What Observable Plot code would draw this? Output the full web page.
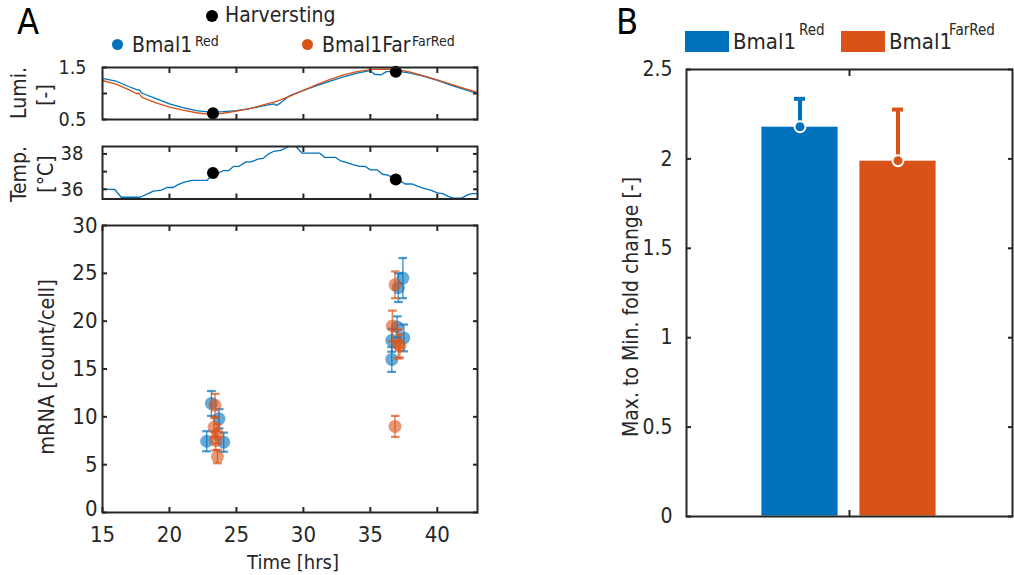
<!DOCTYPE html>
<html>
<head>
<meta charset="utf-8">
<script src="https://cdn.jsdelivr.net/npm/d3@7"></script>
<script src="https://cdn.jsdelivr.net/npm/@observablehq/plot@0.6"></script>
<style>
  html, body { margin: 0; padding: 0; background: #fff; }
  #chart { position: relative; width: 1014px; height: 575px; overflow: hidden;
    font-family: "DejaVu Sans Condensed", "DejaVu Sans", sans-serif; font-stretch: condensed; color: #262626; }
  #chart svg { position: absolute; overflow: visible; }
  .t { position: absolute; white-space: nowrap; line-height: 1; }
  .rot { transform: translate(-50%, -50%) rotate(-90deg); text-align: center; }
  .dot { position: absolute; border-radius: 50%; }
  .sw { position: absolute; }
</style>
</head>
<body>
<div id="chart"></div>
<script>
// ---------------- DATA ----------------
const BLUE = "#0072BD", ORANGE = "#D95319";

// Luminescence traces (normalised), time in hours
const lumiRedT = [15, 16, 17, 17.6, 17.75, 17.9, 18, 19, 20, 21, 22, 23, 24, 25, 26, 27, 27.8, 28.0, 28.3, 29, 30, 31, 32, 33, 34, 35, 35.3, 35.8, 36.2, 37, 38, 39, 40, 41, 42, 43];
const lumiRedV = [1.29, 1.24, 1.13, 1.07, 1.07, 1.02, 1.00, 0.90, 0.80, 0.73, 0.67, 0.64, 0.65, 0.67, 0.71, 0.76, 0.80, 0.77, 0.82, 0.96, 1.06, 1.15, 1.24, 1.32, 1.39, 1.44, 1.37, 1.36, 1.42, 1.43, 1.39, 1.33, 1.25, 1.16, 1.08, 1.00];
const lumiFarT = [15, 16, 17, 17.6, 17.7, 17.9, 18, 19, 20, 21, 22, 23, 24, 25, 26, 27, 28, 29, 30, 31, 32, 33, 34, 35, 36, 37, 38, 39, 40, 41, 42, 43];
const lumiFarV = [1.25, 1.18, 1.07, 0.99, 1.01, 0.94, 0.92, 0.82, 0.74, 0.68, 0.63, 0.60, 0.62, 0.66, 0.71, 0.78, 0.85, 0.95, 1.06, 1.17, 1.27, 1.36, 1.42, 1.46, 1.47, 1.46, 1.41, 1.34, 1.26, 1.18, 1.10, 1.02];

// Temperature trace (°C)
const tempT = [15, 15.9, 16.4, 17.8, 18.4, 18.8, 19.4, 19.8, 20.3, 20.6, 21.1, 21.7, 22.8, 23.3, 23.6, 24.0, 24.4, 24.8, 25.2, 25.7, 26.1, 26.6, 27.0, 27.4, 27.8, 28.3, 28.7, 29.0, 29.4, 29.9, 31.2, 31.6, 32.4, 32.8, 33.3, 33.7, 34.2, 34.6, 35.0, 35.5, 35.9, 36.3, 36.8, 37.2, 37.6, 38.1, 38.6, 39.0, 39.5, 40.0, 40.4, 40.8, 41.2, 41.8, 42.3, 42.6, 43];
const tempV = [36.0, 36.0, 35.55, 35.55, 35.75, 35.9, 35.95, 36.1, 36.1, 36.25, 36.4, 36.5, 36.5, 36.9, 36.9, 37.05, 37.05, 37.3, 37.3, 37.55, 37.55, 37.7, 37.75, 38.0, 38.15, 38.2, 38.35, 38.45, 38.45, 38.05, 38.05, 37.8, 37.8, 37.6, 37.5, 37.4, 37.3, 37.3, 37.1, 37.1, 36.85, 36.8, 36.6, 36.5, 36.3, 36.3, 36.15, 36.05, 35.95, 35.8, 35.75, 35.6, 35.5, 35.5, 35.7, 35.75, 35.75];

// Harvesting times
const harvestT = [23.25, 36.9];
const harvestLumi = [0.62, 1.42];
const harvestTemp = [36.92, 36.55];

// mRNA counts (mean ± error)
const redT = [23.13, 23.7, 22.78, 24.05, 37.43, 37.09, 37.0, 37.5, 36.6, 36.6];
const redV = [11.4, 9.8, 7.45, 7.35, 24.5, 23.5, 19.4, 18.25, 18.0, 16.0];
const redE = [1.3, 1.0, 1.05, 1.0, 2.1, 1.5, 1.1, 1.4, 1.2, 1.3];
const farT = [23.4, 23.33, 23.58, 23.45, 23.58, 36.84, 36.64, 37.09, 37.2, 36.84];
const farV = [11.2, 8.9, 8.2, 7.5, 5.85, 23.8, 19.5, 17.6, 17.4, 9.0];
const farE = [1.2, 1.0, 1.0, 1.0, 0.7, 1.4, 1.6, 1.5, 1.2, 1.1];

// Panel B
const groups = ["1"];
const strains = ["Red", "FarRed"];
const foldMean = [2.18, 1.99];
const foldUpper = [2.336, 2.276];

// Ticks
const timeTicks = [15, 20, 25, 30, 35, 40];
const lumiTicks = [0.5, 1, 1.5];
const lumiLabels = [0.5, 1.5];
const tempTicks = [36, 37, 38];
const tempLabels = [36, 38];
const mrnaTicks = [0, 5, 10, 15, 20, 25, 30];
const foldTicks = [0, 0.5, 1, 1.5, 2, 2.5];

// ---------------- HELPERS ----------------
const FONT = '"DejaVu Sans Condensed", "DejaVu Sans", sans-serif';
const INK = "#262626";
const chart = document.getElementById("chart");
const zip = (t, v) => t.map((x, i) => ({t: x, v: v[i]}));
const zip3 = (t, v, e) => t.map((x, i) => ({t: x, v: v[i], lo: v[i] - e[i], hi: v[i] + e[i]}));

function place(svg, left, top) {
  svg.style.left = left + "px";
  svg.style.top = top + "px";
  chart.appendChild(svg);
}
function text(str, css, cls = "t") {
  const d = document.createElement("div");
  d.className = cls;
  d.innerHTML = str;
  Object.assign(d.style, css);
  chart.appendChild(d);
  return d;
}
function dot(cx, cy, r, color) {
  const d = document.createElement("div");
  d.className = "dot";
  Object.assign(d.style, {left: (cx - r) + "px", top: (cy - r) + "px", width: 2 * r + "px", height: 2 * r + "px", background: color});
  chart.appendChild(d);
}
const fmtOnly = (labels) => (d) => labels.includes(d) ? String(d) : "";
const blank = () => "";

function frameAxes({xTicks, yTicks, yFmt, xFmt, yPad, xPad}) {
  const m = [
    Plot.frame({stroke: INK, strokeWidth: 2}),
    Plot.axisY({anchor: "left", ticks: yTicks, tickSize: -5, tickPadding: yPad, tickFormat: yFmt, label: null, strokeWidth: 2, stroke: INK, fill: INK}),
    Plot.axisY({anchor: "right", ticks: yTicks, tickSize: -5, tickFormat: blank, label: null, strokeWidth: 2, stroke: INK})
  ];
  if (xTicks) {
    m.push(Plot.axisX({anchor: "bottom", ticks: xTicks, tickSize: -5, tickPadding: xPad ?? 0, tickFormat: xFmt ?? blank, label: null, strokeWidth: 2, stroke: INK, fill: INK}));
    m.push(Plot.axisX({anchor: "top", ticks: xTicks, tickSize: -5, tickFormat: blank, label: null, strokeWidth: 2, stroke: INK}));
  }
  return m;
}
const style = (size) => ({fontFamily: FONT, fontSize: size + "px", color: INK, background: "transparent", overflow: "visible"});

// Panel A geometry
const AX0 = 102, AX1 = 477;
const ML = 60, MR = 10, MT = 10, MB = 10;

// ---------------- LUMI ----------------
{
  const top = 67, bot = 119;
  const svg = Plot.plot({
    width: (AX1 - AX0) + ML + MR, height: (bot - top) + MT + MB,
    marginLeft: ML, marginRight: MR, marginTop: MT, marginBottom: MB,
    x: {domain: [15, 43]}, y: {domain: [0.5, 1.5]},
    style: style(19.5),
    marks: [
      Plot.line(zip(lumiRedT, lumiRedV), {x: "t", y: "v", stroke: BLUE, strokeWidth: 1.3, clip: true}),
      Plot.line(zip(lumiFarT, lumiFarV), {x: "t", y: "v", stroke: ORANGE, strokeWidth: 1.3, clip: true}),
      Plot.dot(zip(harvestT, harvestLumi), {x: "t", y: "v", r: 6, fill: "black"}),
      ...frameAxes({xTicks: timeTicks.slice(1), yTicks: lumiTicks, yFmt: fmtOnly(lumiLabels), yPad: 21})
    ]
  });
  place(svg, AX0 - ML, top - MT);
}
// ---------------- TEMP ----------------
{
  const top = 145.5, bot = 198;
  const svg = Plot.plot({
    width: (AX1 - AX0) + ML + MR, height: (bot - top) + MT + MB,
    marginLeft: ML, marginRight: MR, marginTop: MT, marginBottom: MB,
    x: {domain: [15, 43]}, y: {domain: [35.45, 38.42]},
    style: style(20),
    marks: [
      Plot.line(zip(tempT, tempV), {x: "t", y: "v", stroke: BLUE, strokeWidth: 1.3, clip: true}),
      Plot.dot(zip(harvestT, harvestTemp), {x: "t", y: "v", r: 6, fill: "black"}),
      ...frameAxes({xTicks: timeTicks.slice(1), yTicks: tempTicks, yFmt: fmtOnly(tempLabels), yPad: 24})
    ]
  });
  place(svg, AX0 - ML, top - MT);
}
// ---------------- mRNA ----------------
{
  const top = 225, bot = 512;
  const MBm = 40;
  const red = zip3(redT, redV, redE), far = zip3(farT, farV, farE);
  const svg = Plot.plot({
    width: (AX1 - AX0) + ML + MR, height: (bot - top) + MT + MBm,
    marginLeft: ML, marginRight: MR, marginTop: MT, marginBottom: MBm,
    x: {domain: [15, 43]}, y: {domain: [0, 30]},
    style: style(22),
    marks: [
      Plot.link(red, {x1: "t", x2: "t", y1: "lo", y2: "hi", stroke: BLUE, strokeWidth: 1.5, strokeOpacity: 0.7, marker: "tick"}),
      Plot.dot(red, {x: "t", y: "v", r: 6.5, fill: BLUE, fillOpacity: 0.6}),
      Plot.link(far, {x1: "t", x2: "t", y1: "lo", y2: "hi", stroke: ORANGE, strokeWidth: 1.5, strokeOpacity: 0.7, marker: "tick"}),
      Plot.dot(far, {x: "t", y: "v", r: 6.5, fill: ORANGE, fillOpacity: 0.6}),
      Plot.frame({stroke: INK, strokeWidth: 2}),
      // y tick marks (inward, both sides)
      Plot.axisY({anchor: "left", ticks: mrnaTicks, tickSize: -5, tickFormat: blank, label: null, strokeWidth: 2, stroke: INK}),
      Plot.axisY({anchor: "right", ticks: mrnaTicks, tickSize: -5, tickFormat: blank, label: null, strokeWidth: 2, stroke: INK}),
      // y tick labels; the "0" label nudged up so it clears the "15" below it
      Plot.axisY({anchor: "left", ticks: mrnaTicks.slice(1), tickSize: 0, tickPadding: 5, tickFormat: (d) => String(d), label: null, fill: INK}),
      Plot.axisY({anchor: "left", ticks: mrnaTicks.slice(0, 1), tickSize: 0, tickPadding: 5, dy: -4, tickFormat: (d) => String(d), label: null, fill: INK}),
      // x ticks and labels
      Plot.axisX({anchor: "bottom", ticks: timeTicks, tickSize: -5, tickPadding: 19, tickFormat: (d) => String(d), label: null, strokeWidth: 2, stroke: INK, fill: INK}),
      Plot.axisX({anchor: "top", ticks: timeTicks, tickSize: -5, tickFormat: blank, label: null, strokeWidth: 2, stroke: INK})
    ]
  });
  place(svg, AX0 - ML, top - MT);
}
// ---------------- PANEL B ----------------
{
  const BX0 = 686, BX1 = 1012, top = 69, bot = 516;
  const bars = strains.map((s, i) => ({group: groups[0], strain: s, mean: foldMean[i], upper: foldUpper[i]}));
  const svg = Plot.plot({
    width: (BX1 - BX0) + ML + MR, height: (bot - top) + MT + MB,
    marginLeft: ML, marginRight: MR, marginTop: MT, marginBottom: MB,
    fx: {domain: groups, padding: 0, label: null},
    x: {domain: strains, paddingInner: 0.212, paddingOuter: 0.757, axis: null},
    y: {domain: [0, 2.5]},
    color: {domain: strains, range: [BLUE, ORANGE]},
    style: style(21),
    marks: [
      Plot.barY(bars, {fx: "group", x: "strain", y: "mean", fill: "strain", stroke: "white", strokeWidth: 0.8}),
      Plot.ruleX(bars, {fx: "group", x: "strain", y1: "mean", y2: "upper", stroke: "strain", strokeWidth: 4}),
      Plot.tickY(bars, {fx: "group", x: "strain", y: "upper", stroke: "strain", strokeWidth: 4, insetLeft: 33, insetRight: 33}),
      Plot.dot(bars, {fx: "group", x: "strain", y: "mean", r: 5.5, fill: "strain", stroke: "white", strokeWidth: 2}),
      Plot.frame({stroke: INK, strokeWidth: 2}),
      Plot.axisY({anchor: "left", ticks: foldTicks, tickSize: -5, tickPadding: 19, tickFormat: (d) => String(d), label: null, strokeWidth: 2, stroke: INK, fill: INK}),
      Plot.axisY({anchor: "right", ticks: foldTicks, tickSize: -5, tickFormat: blank, label: null, strokeWidth: 2, stroke: INK}),
      Plot.axisFx({anchor: "bottom", tickSize: -6, tickFormat: blank, label: null, strokeWidth: 2, stroke: INK}),
      Plot.axisFx({anchor: "top", tickSize: -6, tickFormat: blank, label: null, strokeWidth: 2, stroke: INK})
    ]
  });
  place(svg, BX0 - ML, top - MT);
}

// ---------------- TEXT / LEGENDS ----------------
text("A", {left: "17px", top: "4px", fontSize: "36px", color: "#000"});
text("B", {left: "616px", top: "4px", fontSize: "36px", color: "#000"});

dot(212, 16, 6, "black");
text("Harversting", {left: "225px", top: "5px", fontSize: "21px"});

dot(117, 44, 5.5, BLUE);
text("Bmal1", {left: "132px", top: "35px", fontSize: "21px"});
text("Red", {left: "195px", top: "34px", fontSize: "14px"});
dot(307, 44, 5.5, ORANGE);
text("Bmal1Far", {left: "322px", top: "35px", fontSize: "21px"});
text("FarRed", {left: "412px", top: "34px", fontSize: "14px"});

// Panel B legend
const sw1 = document.createElement("div"); sw1.className = "sw";
Object.assign(sw1.style, {left: "685px", top: "31px", width: "44px", height: "21px", background: BLUE}); chart.appendChild(sw1);
const sw2 = document.createElement("div"); sw2.className = "sw";
Object.assign(sw2.style, {left: "841px", top: "31px", width: "44px", height: "21px", background: ORANGE}); chart.appendChild(sw2);
text("Bmal1", {left: "733px", top: "31px", fontSize: "22px"});
text("Red", {left: "799px", top: "23px", fontSize: "15px"});
text("Bmal1", {left: "889px", top: "31px", fontSize: "22px"});
text("FarRed", {left: "949px", top: "23px", fontSize: "15px"});

// Axis titles
text("Lumi.", {left: "19px", top: "93px", fontSize: "21px"}, "t rot");
text("[-]", {left: "45px", top: "95px", fontSize: "21px"}, "t rot");
text("Temp.", {left: "19px", top: "174px", fontSize: "21px"}, "t rot");
text("[°C]", {left: "46px", top: "174px", fontSize: "21px"}, "t rot");
text("mRNA [count/cell]", {left: "47px", top: "367px", fontSize: "21.5px"}, "t rot");
text("Time [hrs]", {left: "293px", top: "562px", fontSize: "20px", transform: "translate(-50%, -50%)"});
text("Max. to Min. fold change [-]", {left: "631px", top: "307px", fontSize: "21px"}, "t rot");
</script>
</body>
</html>
